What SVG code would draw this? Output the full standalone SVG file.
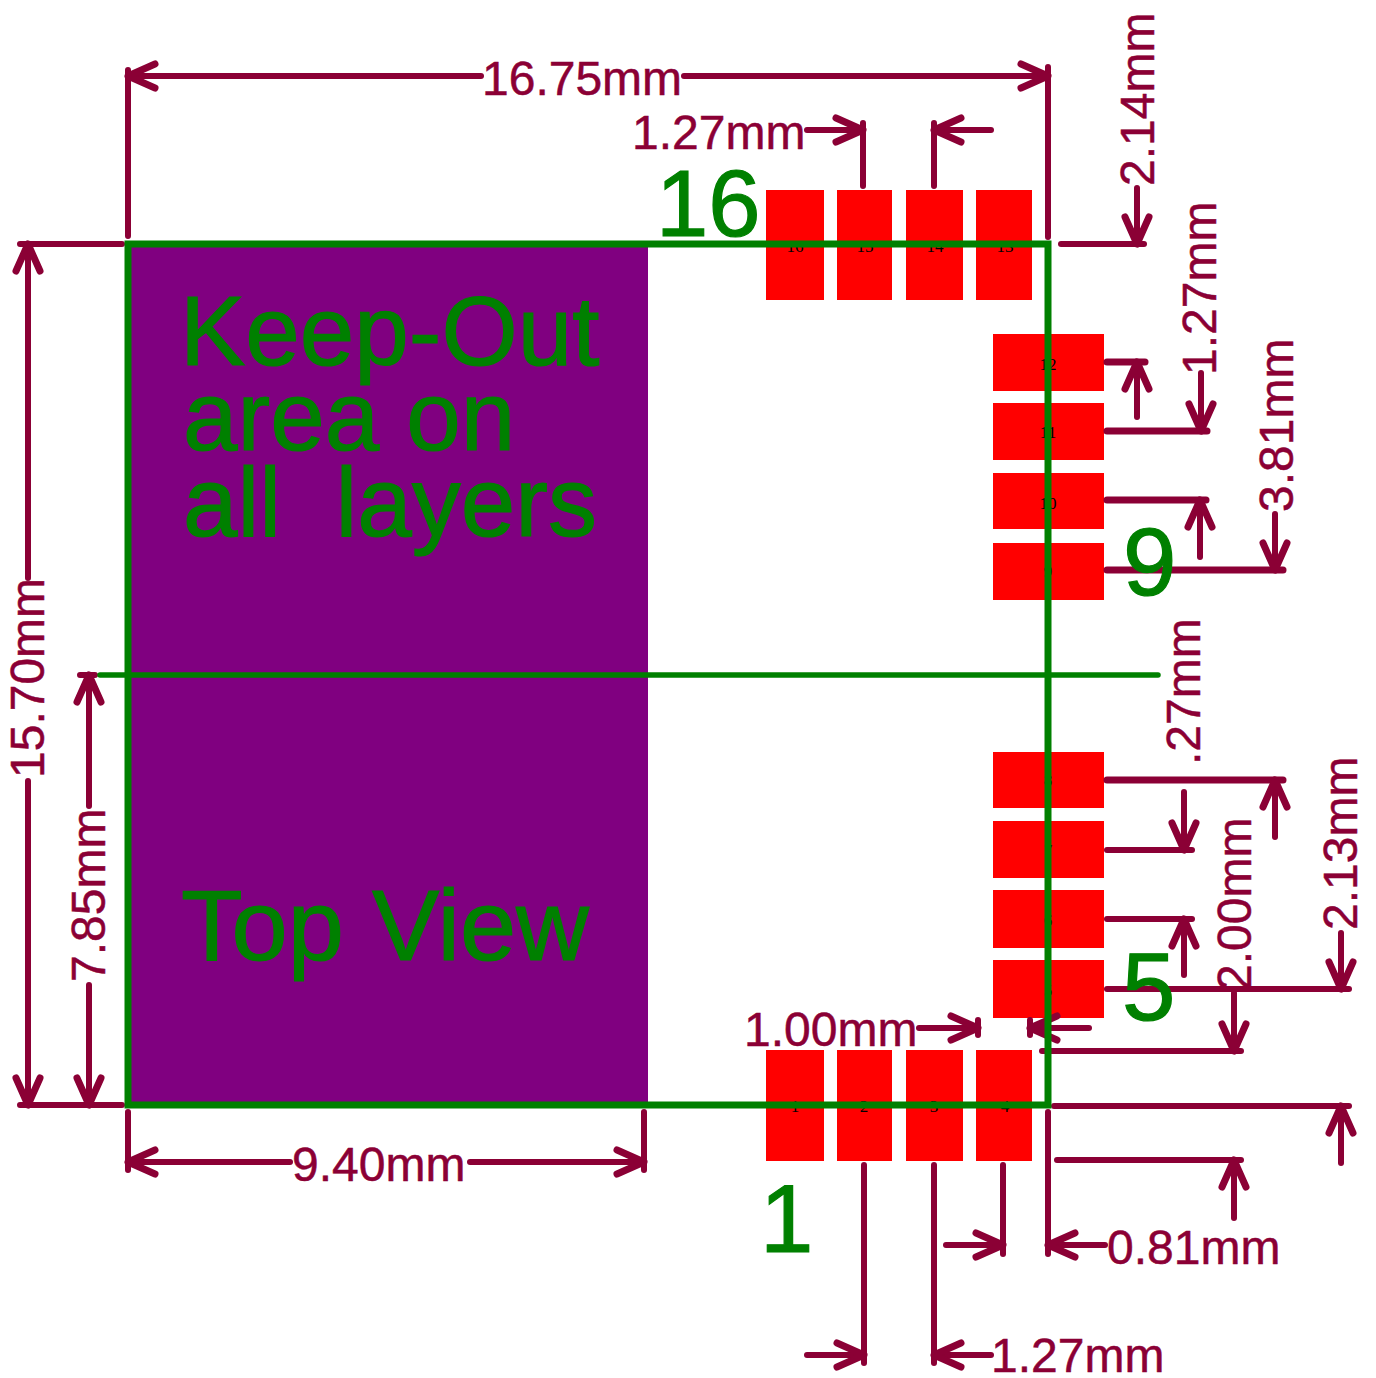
<svg xmlns="http://www.w3.org/2000/svg" width="1376" height="1378" viewBox="0 0 1376 1378">
<defs>
<marker id="arr" markerUnits="userSpaceOnUse" markerWidth="40" markerHeight="40" refX="31" refY="20" orient="auto" overflow="visible">
<path d="M4 8 L31 20 L4 32" fill="none" stroke="#8b0035" stroke-width="7" stroke-linecap="round" stroke-linejoin="round"/>
</marker>
</defs>
<style>
.d{fill:none;stroke:#8b0035;stroke-width:6;stroke-linecap:round;stroke-linejoin:round}
.h{stroke-width:7}
.a{marker-end:url(#arr)}
.t{font-family:"Liberation Sans",Arial,sans-serif;font-size:48px;fill:#8b0035;stroke:#8b0035;stroke-width:.5}
.g{font-family:"Liberation Sans",Arial,sans-serif;fill:#008000;stroke:#008000;stroke-width:1.2;white-space:pre}
.p{fill:#ff0000}
.n{font-family:"Liberation Serif",serif;font-size:17px;fill:#000;text-anchor:middle}
.o{fill:none;stroke:#008000;stroke-width:7}
.c{fill:none;stroke:#008000;stroke-width:5.5;stroke-linecap:round}
</style>
<rect width="1376" height="1378" fill="#ffffff"/>
<rect id="keepout" x="128" y="244" width="520" height="861" fill="#800080"/>
<g id="pads">
<g id="pad16"><rect class="p" x="766" y="190" width="58" height="110"/><text class="n" x="795" y="252">16</text></g>
<g id="pad15"><rect class="p" x="837" y="190" width="55" height="110"/><text class="n" x="865" y="252">15</text></g>
<g id="pad14"><rect class="p" x="906" y="190" width="57" height="110"/><text class="n" x="935" y="252">14</text></g>
<g id="pad13"><rect class="p" x="976" y="190" width="56" height="110"/><text class="n" x="1005" y="252">13</text></g>
<g id="pad12"><rect class="p" x="993" y="334" width="111" height="57"/><text class="n" x="1048" y="370">12</text></g>
<g id="pad11"><rect class="p" x="993" y="403" width="111" height="57"/><text class="n" x="1048" y="438">11</text></g>
<g id="pad10"><rect class="p" x="993" y="473" width="111" height="56"/><text class="n" x="1048" y="509">10</text></g>
<g id="pad9"><rect class="p" x="993" y="543" width="111" height="57"/><text class="n" x="1048" y="577">9</text></g>
<g id="pad8"><rect class="p" x="993" y="752" width="111" height="56"/><text class="n" x="1048" y="786">8</text></g>
<g id="pad7"><rect class="p" x="993" y="821" width="111" height="57"/><text class="n" x="1048" y="856">7</text></g>
<g id="pad6"><rect class="p" x="993" y="890" width="111" height="58"/><text class="n" x="1048" y="926">6</text></g>
<g id="pad5"><rect class="p" x="993" y="960" width="111" height="58"/><text class="n" x="1048" y="996">5</text></g>
<g id="pad1"><rect class="p" x="766" y="1050" width="58" height="111"/><text class="n" x="795" y="1112">1</text></g>
<g id="pad2"><rect class="p" x="837" y="1050" width="55" height="111"/><text class="n" x="864" y="1112">2</text></g>
<g id="pad3"><rect class="p" x="906" y="1050" width="57" height="111"/><text class="n" x="934" y="1112">3</text></g>
<g id="pad4"><rect class="p" x="976" y="1050" width="56" height="111"/><text class="n" x="1005" y="1112">4</text></g>
</g>
<g id="dimension-labels">
<text class="t" x="482" y="95">16.75mm</text>
<text class="t" x="632" y="149">1.27mm</text>
<text class="t" transform="translate(1154 186) rotate(-90)">2.14mm</text>
<text class="t" transform="translate(1216 375) rotate(-90)">1.27mm</text>
<text class="t" transform="translate(1293 512) rotate(-90)">3.81mm</text>
<text class="t" transform="translate(1200 765) rotate(-90)">.27mm</text>
<text class="t" transform="translate(1251 991) rotate(-90)">2.00mm</text>
<text class="t" transform="translate(1357 930) rotate(-90)">2.13mm</text>
<text class="t" transform="translate(44 778) rotate(-90)">15.70mm</text>
<text class="t" transform="translate(105 982) rotate(-90)">7.85mm</text>
<text class="t" x="744" y="1046">1.00mm</text>
<text class="t" x="292" y="1181">9.40mm</text>
<text class="t" x="1107" y="1264">0.81mm</text>
<text class="t" x="991" y="1372">1.27mm</text>
</g>
<g id="connectors">
<path class="d" d="M128 70V236M1048 67V237M863 123V186M934 123V186"/>
<path class="d a" d="M481 76H128"/><path class="d a" d="M684 76H1048"/>
<path class="d a" d="M807 130H863"/><path class="d a" d="M991 130H934"/>
<path class="d" d="M1061 244H1144"/><path class="d a" d="M1137 188V244"/>
<path class="d h" d="M1107 362H1145"/><path class="d a" d="M1137 417V362"/>
<path class="d h" d="M1107 431H1207"/><path class="d a" d="M1201 373V431"/>
<path class="d h" d="M1107 500H1206"/><path class="d a" d="M1200 557V500"/>
<path class="d h" d="M1107 570H1283"/><path class="d a" d="M1275 514V570"/>
<path class="d h" d="M1107 780H1283"/><path class="d a" d="M1275 837V780"/>
<path class="d" d="M1107 850H1192"/><path class="d a" d="M1184 792V850"/>
<path class="d" d="M1107 919H1192"/><path class="d a" d="M1184 975V919"/>
<path class="d" d="M1107 989H1349"/><path class="d a" d="M1341 933V989"/>
<path class="d" d="M1042 1051H1241"/><path class="d a" d="M1234 993V1051"/>
<path class="d a" d="M919 1028H978"/><path class="d" d="M978 1020V1035"/>
<path class="d a" d="M1089 1028H1030"/><path class="d" d="M1030 1020V1035"/>
<path class="d" d="M1054 1106H1349"/><path class="d a" d="M1341 1163V1106"/>
<path class="d" d="M1057 1160H1241"/><path class="d a" d="M1234 1218V1160"/>
<path class="d" d="M1048 1112V1254"/><path class="d a" d="M1105 1245H1048"/>
<path class="d" d="M1003 1165V1254"/><path class="d a" d="M946 1245H1003"/>
<path class="d" d="M864 1165V1363"/><path class="d a" d="M807 1355H864"/>
<path class="d" d="M934 1165V1363"/><path class="d a" d="M991 1355H934"/>
<path class="d" d="M20 244H122M20 1105H122M80 675H95"/>
<path class="d a" d="M28 578V244"/><path class="d a" d="M28 781V1105"/>
<path class="d a" d="M89 806V675"/><path class="d a" d="M89 985V1105"/>
<path class="d" d="M128 1112V1170M644 1112V1170"/>
<path class="d a" d="M290 1162H128"/><path class="d a" d="M470 1162H644"/>
</g>
<g id="outline">
<rect class="o" x="128" y="244" width="920" height="861"/>
<path class="c" d="M100 675H1158"/>
</g>
<g id="green-labels">
<text class="g" x="180" y="365" font-size="98">Keep-Out</text>
<text class="g" x="183" y="450" font-size="98">area on</text>
<text class="g" x="183" y="536" font-size="98">all  layers</text>
<text class="g" x="181" y="960" font-size="101">Top View</text>
<text class="g" x="656" y="236" font-size="94">16</text>
<text class="g" x="1123" y="595" font-size="96">9</text>
<text class="g" x="1122" y="1020" font-size="96">5</text>
<text class="g" x="760" y="1252" font-size="96">1</text>
</g>
</svg>
